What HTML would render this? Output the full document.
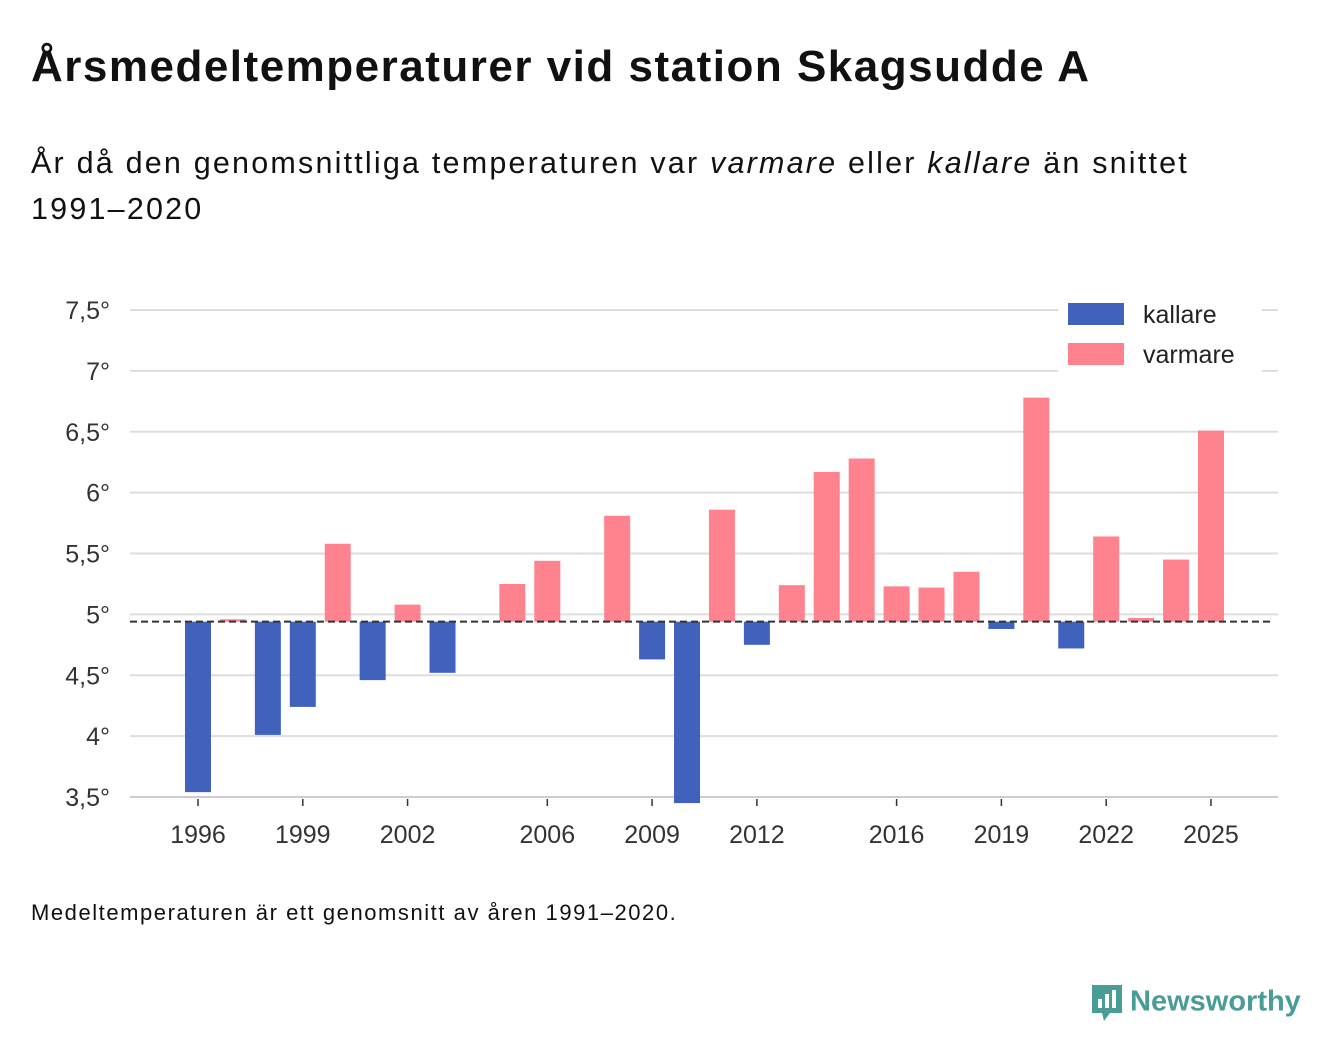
<!DOCTYPE html>
<html><head><meta charset="utf-8"><style>
body{margin:0;width:1340px;height:1056px;background:#fff;font-family:"Liberation Sans","Noto Sans CJK JP",sans-serif;color:#111;position:relative;overflow:hidden}
.t{position:absolute;left:31px;top:42px;font-size:44px;font-weight:bold;margin:0;letter-spacing:1.5px}
.s{position:absolute;left:31px;top:140px;font-size:30.5px;line-height:46px;width:1280px;letter-spacing:2.2px}
.f{position:absolute;left:31px;top:900px;font-size:22px;letter-spacing:1.55px}
.logo{position:absolute;left:1090px;top:983px;font-size:29px;font-weight:bold;color:#4a9c96}
</style></head><body>
<h1 class="t">Årsmedeltemperaturer vid station Skagsudde A</h1>
<div class="s">År då den genomsnittliga temperaturen var <i>varmare</i> eller <i>kallare</i> än snittet<br>1991–2020</div>
<svg id="c" width="1340" height="1056" style="position:absolute;left:0;top:0"></svg>
<div class="f">Medeltemperaturen är ett genomsnitt av åren 1991–2020.</div>
<div class="logo"><svg width="34" height="40" viewBox="0 0 34 40" style="vertical-align:middle;margin-right:6px"><path d="M2 2h30v28H20l-6 8-2-8H2z" fill="#4a9c96"/><rect x="8" y="16" width="4" height="9" fill="#fff"/><rect x="15" y="11" width="4" height="14" fill="#fff"/><rect x="22" y="7" width="4" height="18" fill="#fff"/></svg>Newsworthy</div>
<script>
const years=[1996,1997,1998,1999,2000,2001,2002,2003,2004,2005,2006,2007,2008,2009,2010,2011,2012,2013,2014,2015,2016,2017,2018,2019,2020,2021,2022,2023,2024,2025];
const temps=[3.54,4.96,4.01,4.24,5.58,4.46,5.08,4.52,null,5.25,5.44,null,5.81,4.63,3.45,5.86,4.75,5.24,6.17,6.28,5.23,5.22,5.35,4.88,6.78,4.72,5.64,4.97,5.45,6.51];
const meanTemp=4.94;
const yTicks=[3.5,4,4.5,5,5.5,6,6.5,7,7.5];
const xTicks=[1996,1999,2002,2006,2009,2012,2016,2019,2022,2025];
const NS="http://www.w3.org/2000/svg",svg=document.getElementById('c');
const y=v=>797-(v-3.5)*121.75, x=yr=>198+(yr-1996)*34.93;
function mk(t,a,txt){const e=document.createElementNS(NS,t);for(const k in a)e.setAttribute(k,a[k]);if(txt!=null)e.textContent=txt;svg.appendChild(e);return e;}
yTicks.forEach(v=>{
 const l=mk('line',{x1:130,x2:1278,y1:y(v),y2:y(v),stroke:v===3.5?'#ccc':'#ddd','stroke-width':2});
 
 
 const t=mk('text',{x:110,y:y(v)+9,'text-anchor':'end','font-size':25,fill:'#333','font-family':'Liberation Sans,sans-serif'},(String(v).replace('.',','))+'°');
 
 
});
xTicks.forEach(yr=>{
 const l=mk('line',{x1:x(yr),x2:x(yr),y1:799,y2:806,stroke:'#333','stroke-width':1.5});
 
 
 const t=mk('text',{x:x(yr),y:843,'text-anchor':'middle','font-size':25,fill:'#333','font-family':'Liberation Sans,sans-serif'},yr);
 
 
});
years.forEach((yr,i)=>{
 const v=temps[i];if(v==null)return;
 const top=Math.min(y(v),y(meanTemp)),h=Math.abs(y(v)-y(meanTemp));
 const r=mk('rect',{x:x(yr)-13,y:top,width:26,height:Math.max(h,1),fill:v<meanTemp?'#4062bd':'#ff828f'});
 
 
});
const m=mk('line',{x1:130,x2:1273,y1:y(meanTemp),y2:y(meanTemp),stroke:'#333','stroke-width':2,'stroke-dasharray':'7,4'});


const lb=mk('rect',{x:1058,y:295,width:204,height:77,fill:'#fff'});


[['kallare','#4062bd',303],['varmare','#ff828f',343]].forEach(([n,c,yy])=>{
 const r=mk('rect',{x:1068,y:yy,width:56,height:22,fill:c});
 
 
 const t=mk('text',{x:1143,y:yy+20,'font-size':25,fill:'#222','font-family':'Liberation Sans,sans-serif'},n);
 
 
});
</script>
</body></html>
